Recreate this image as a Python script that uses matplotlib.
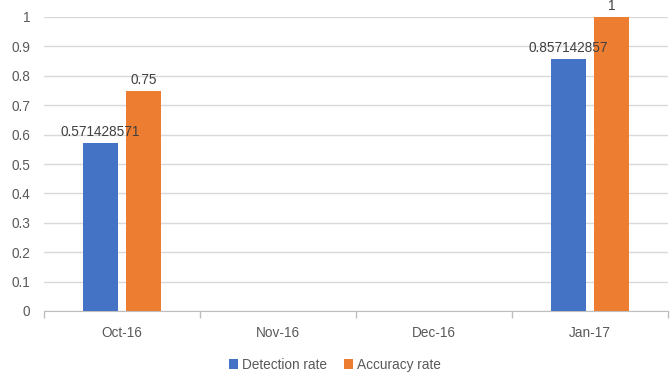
import numpy as np
import matplotlib.pyplot as plt
from matplotlib.ticker import FixedLocator, NullFormatter

months = ["Oct-16", "Nov-16", "Dec-16", "Jan-17"]
detection = [0.571428571, 0, 0, 0.857142857]
accuracy = [0.75, 0, 0, 1]
detection_labels = ["0.571428571", "", "", "0.857142857"]
accuracy_labels = ["0.75", "", "", "1"]
y_ticks = [0, 0.1, 0.2, 0.3, 0.4, 0.5, 0.6, 0.7, 0.8, 0.9, 1]
y_tick_labels = ["0", "0.1", "0.2", "0.3", "0.4", "0.5", "0.6", "0.7", "0.8", "0.9", "1"]

plt.rcParams['font.family'] = ['Liberation Sans', 'DejaVu Sans']
txt = "#595959"

fig = plt.figure(figsize=(6.7, 3.73), dpi=100)
ax = fig.add_axes([44 / 670, 1 - 311 / 373, 624 / 670, 294 / 373])

x = np.arange(len(months))
w = 0.225
off = 0.1395
b1 = ax.bar(x - off, detection, w, color="#4472c4", label="Detection rate", zorder=3)
b2 = ax.bar(x + off, accuracy, w, color="#ed7d31", label="Accuracy rate", zorder=3)

# data labels, skipped where the month has no value
for bars, labels in [(b1, detection_labels), (b2, accuracy_labels)]:
    for rect, lab in zip(bars, labels):
        if lab:
            ax.text(rect.get_x() + rect.get_width() / 2, rect.get_height() + 0.012, lab,
                    ha="center", va="bottom", fontsize=9.8, color="#404040", clip_on=False)

ax.set_xlim(-0.5, len(months) - 0.5)
ax.set_ylim(0, 1)
ax.set_yticks(y_ticks)
ax.set_yticklabels(y_tick_labels)
ax.grid(axis="y", color="#d9d9d9", linewidth=1, zorder=0)
ax.set_xticks(x)
ax.set_xticklabels(months)
ax.xaxis.set_minor_locator(FixedLocator(np.arange(-0.5, len(months), 1)))
ax.xaxis.set_minor_formatter(NullFormatter())
ax.tick_params(axis="x", which="major", length=0, pad=11, labelsize=9.8, labelcolor=txt)
ax.tick_params(axis="x", which="minor", length=5, color="#bfbfbf", width=1)
ax.tick_params(axis="y", length=0, pad=10, labelsize=9.8, labelcolor=txt)

for s in ["top", "right", "left"]:
    ax.spines[s].set_visible(False)
ax.spines["bottom"].set_color("#bfbfbf")

fig.legend(loc="lower center", bbox_to_anchor=(0.5, -0.03), ncol=2, frameon=False,
           fontsize=9.8, handlelength=0.7, handleheight=0.7, handletextpad=0.3,
           columnspacing=1.2, labelcolor=txt)

fig.savefig("out.png", dpi=100)
